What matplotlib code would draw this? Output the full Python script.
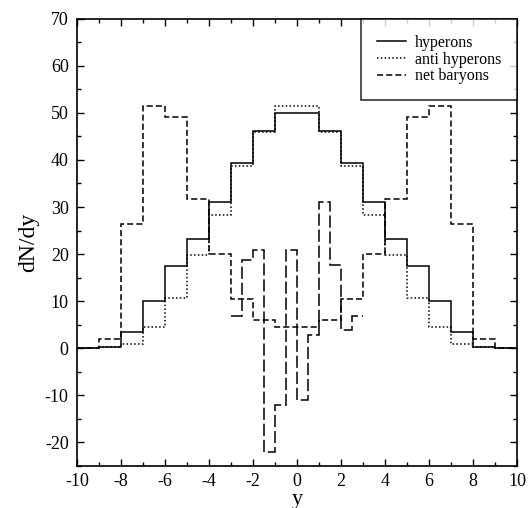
import matplotlib
matplotlib.use("Agg")
import matplotlib.pyplot as plt
from matplotlib.ticker import MultipleLocator

plt.rcParams['font.family'] = ['Liberation Serif', 'DejaVu Serif']
plt.rcParams['axes.unicode_minus'] = False

# bin edges, unit bins over the full rapidity range
edges = list(range(-10, 11))
hyperons = [0, 0.3, 3.5, 10.1, 17.4, 23.3, 31.0, 39.4, 46.2, 50.0,
            50.0, 46.2, 39.4, 31.0, 23.3, 17.4, 10.1, 3.5, 0.3, 0]
anti_hyperons = [0, 0.2, 0.9, 4.5, 10.6, 19.9, 28.4, 38.8, 46.0, 51.4,
                 51.4, 46.0, 38.8, 28.4, 19.9, 10.6, 4.5, 0.9, 0.2, 0]
net_baryons = [0, 2.0, 26.4, 51.4, 49.1, 31.7, 20.0, 10.5, 5.9, 4.6,
               4.6, 5.9, 10.5, 20.0, 31.7, 49.1, 51.4, 26.4, 1.9, 0]

# finer half-unit bins in the central region
fine_edges = [-3, -2.5, -2, -1.5, -1, -0.5, 0, 0.5, 1, 1.5, 2, 2.5, 3]
fine_net = [6.9, 18.8, 20.9, -22.0, -12.1, 20.9, -11.0, 2.8, 31.0, 17.7, 3.9, 6.9]

fig = plt.figure(figsize=(5.31, 5.08), dpi=100)
ax = fig.add_axes([0.145, 0.083, 0.829, 0.880])

ax.stairs(hyperons, edges, color="black", linewidth=1.1, linestyle="-", label="hyperons")
ax.stairs(anti_hyperons, edges, color="black", linewidth=1.1, linestyle=(0, (1, 1.5)), label="anti hyperons")
ax.stairs(net_baryons, edges, color="black", linewidth=1.1, linestyle=(0, (4, 2)), label="net baryons")
ax.stairs(fine_net, fine_edges, baseline=None, color="black", linewidth=1.1, linestyle=(0, (8, 2.5)))

ax.set_xlim(-10, 10)
ax.set_ylim(-25, 70)
ax.xaxis.set_major_locator(MultipleLocator(2))
ax.xaxis.set_minor_locator(MultipleLocator(1))
ax.yaxis.set_major_locator(MultipleLocator(10))
ax.yaxis.set_minor_locator(MultipleLocator(5))
ax.tick_params(which="both", direction="in", top=True, right=True, labelsize=13, width=1)
ax.tick_params(which="major", length=5, pad=6)
ax.tick_params(axis="x", which="major", pad=5)
ax.tick_params(which="minor", length=3)
for s in ax.spines.values():
    s.set_linewidth(1.2)

ax.set_xlabel("y", fontsize=16, labelpad=0)
ax.set_ylabel("dN/dy", fontsize=17, labelpad=4)

leg = ax.legend(loc="upper right", fontsize=11.5, frameon=True, fancybox=False,
                edgecolor="black", borderaxespad=0, handlelength=1.8,
                borderpad=1.0, labelspacing=0.05, handletextpad=0.55)
leg.get_frame().set_linewidth(1.2)

fig.savefig("out.png", dpi=100)
